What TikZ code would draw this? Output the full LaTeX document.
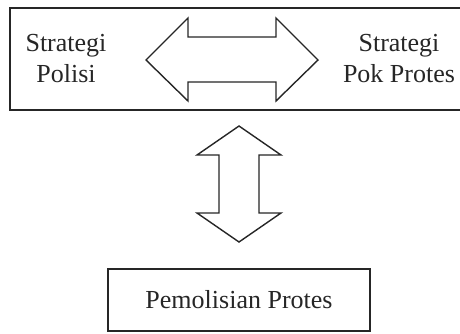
\documentclass[tikz,border=0pt]{standalone}
\usepackage{fontspec}
\setmainfont{Liberation Serif}
\usetikzlibrary{positioning}

\begin{document}
\begin{tikzpicture}[x=1pt, y=-1pt,
    caixa/.style={draw=black!85, line width=1.8pt},
    seta/.style={draw=black!85, line width=1.4pt, fill=white, line join=miter},
    rotulo/.style={align=center, font=\fontsize{26}{31}\selectfont, text=black!85}]
    % Area do desenho
    \useasboundingbox (0,0) rectangle (460,333);
    \clip (0,0) rectangle (460,333);

    % Caixa superior (passa da margem direita)
    \draw[caixa] (10,8) rectangle (475,110);
    \node[rotulo] (polisi) at (66,59) {Strategi\\Polisi};
    \node[rotulo] (pokprotes) at (399,59) {Strategi\\Pok Protes};

    % Seta dupla horizontal entre as estrategias
    \coordinate (hL) at (146,60);
    \coordinate (hR) at (318,60);
    \draw[seta] (hL) -- (188,18) -- (188,37) -- (276,37) -- (276,18) -- (hR)
        -- (276,101) -- (276,82) -- (188,82) -- (188,101) -- cycle;

    % Caixa inferior
    \node[caixa, rotulo, minimum width=262pt, minimum height=62pt] (pemolisian) at (239,300) {Pemolisian Protes};

    % Seta dupla vertical
    \coordinate (vT) at (239,126);
    \coordinate (vB) at (239,242);
    \draw[seta] (vT) -- (281,155) -- (259,155) -- (259,213) -- (281,213) -- (vB)
        -- (197,213) -- (219,213) -- (219,155) -- (197,155) -- cycle;

\end{tikzpicture}
\end{document}
